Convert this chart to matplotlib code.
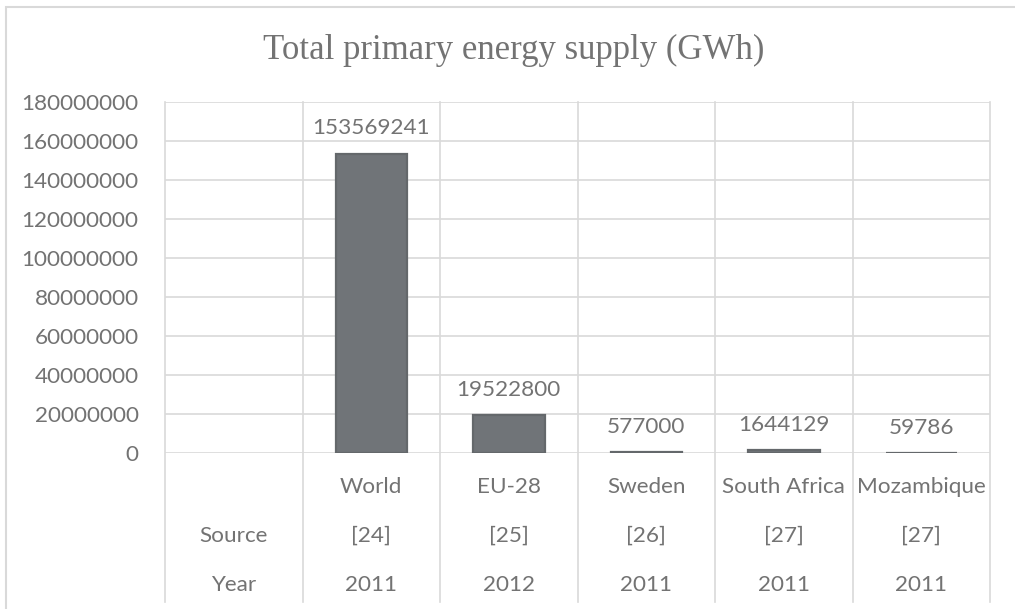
import numpy as np
import matplotlib.pyplot as plt
from matplotlib.patches import Rectangle

# data
regions = ['', 'World', 'EU-28', 'Sweden', 'South Africa', 'Mozambique']
sources = ['Source', '[24]', '[25]', '[26]', '[27]', '[27]']
years = ['Year', '2011', '2012', '2011', '2011', '2011']
supply = [np.nan, 153569241, 19522800, 577000, 1644129, 59786]

txt = '#737373'
grid = '#d9d9d9'
bar_c = '#707478'
font = 'Lato'
fs = 16.2

fig = plt.figure(figsize=(10.15, 6.09), dpi=100)
fig.patches.append(Rectangle((6/1015, -0.1), 1.2, 1.1 - 7/609, transform=fig.transFigure,
                             fill=False, edgecolor=grid, lw=1.5))
ax = fig.add_axes([165/1015, 1-453/609, 825/1015, 351/609])

x = np.arange(len(regions))
bars = ax.bar(x, supply, width=0.52, color=bar_c, edgecolor='#64686b', lw=1.6, zorder=3)
for xi, v in zip(x, supply):
    if np.isnan(v):
        continue
    ax.annotate(f'{int(v)}', (xi, v), xytext=(0, 11), textcoords='offset points',
                ha='center', va='bottom', fontsize=fs, color=txt, family=font)

ax.set_xlim(-0.5, 5.5)
ax.set_ylim(0, 180000000)
ax.set_yticks(np.arange(0, 180000001, 20000000))
ax.set_yticklabels([str(v) for v in range(0, 180000001, 20000000)],
                   fontsize=fs, color=txt, family=font)
ax.tick_params(axis='y', length=0, pad=19)
ax.set_xticks([])
ax.grid(axis='y', color=grid, lw=1.2, zorder=0)
for s in ax.spines.values():
    s.set_visible(False)

# table style category axis
for b in np.arange(-0.5, 5.6, 1):
    ax.axvline(b, ymin=-0.425, ymax=1, color=grid, lw=1.2, clip_on=False, zorder=1)
for i in x:
    ax.text(i, -0.097, regions[i], transform=ax.get_xaxis_transform(), ha='center',
            va='center', fontsize=fs, color=txt, family=font)
    ax.text(i, -0.236, sources[i], transform=ax.get_xaxis_transform(), ha='center',
            va='center', fontsize=fs, color=txt, family=font)
    ax.text(i, -0.376, years[i], transform=ax.get_xaxis_transform(), ha='center',
            va='center', fontsize=fs, color=txt, family=font)

fig.text(514/1015, 1-50/609, 'Total primary energy supply (GWh)', ha='center', va='center',
         fontsize=25, color=txt, family='Liberation Serif')

fig.savefig('out.png', dpi=100)
